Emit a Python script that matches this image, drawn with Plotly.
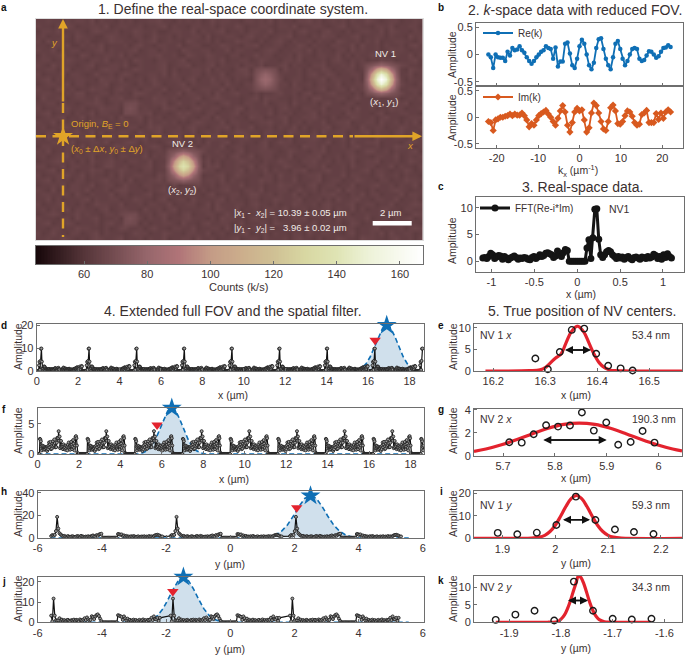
import numpy as np
import plotly.graph_objects as go

W, H = 685, 655
TXT = "#3a3030"
AX = "#6e6e6e"
GOLD = "#e0a428"
BLUE = "#0f6fb5"
ORANGE = "#d8591f"
RED = "#e3232e"
FONT = "Liberation Sans"

# ---------- panel a ----------
bg_rows = [
"44544354554635443545344556443545453464554435545463544355645345453544654345534454",
"54435465344554634554453445635443554453544653445543554634455434563454435546344553",
"35546344543565445344654453345544635445634453554463445356443564435345544636544354",
"45344553654433565443553464453544553634455435644534556344354655344563445535443645",
"53645443545334465544354563454436544535344655435345643544535443654453546344554435",
"44355463354546344453564435544634553344654435563445534465354435544636445354453564",
"54463445534456354445634553544365445534463554434565344554635443553645445346554344",
"35445644365344554635344556445336544654435534464553445364435544635354465443544635",
"45534465443554634453654435544563443554634455346544355463444535643545344655344563",
"54364554345634455463354445634556344563544535546344563544355634454635445344565443",
"44553563445435655344654445635344554635443566344455364453544653445534463555443654",
"53444635543464453565344554636444553544634556443536544453564465344553644535544634",
"45635344554436554634453564445535634464553544365445634553445635544353644564453544",
"34554463553445634554354465344563544455364435546344553644535544634455634553464435",
"54436545344655435644535544634456345544635344564436544553445634553645443565344554",
"45544354663445535443665445344635544536445644353445644535634456444353655443564453",
"36445534554464355644534465545344563456544434563655443545366444553464435445634545",
"44553644345565345446354455634644535443564435544634553644453564435534465443556344",
"53445564453446555344645443655343564455344663544453564435544634455364453446553445",
"45634453544635544364455634434656443553445634554463545344563544436554435634455443",
"34545634463544453644563545344564435536445443655344563445564435344654453564434555",
"54463545443556344564453644545343565444635544345564463453544634556344553644535463",
"45344664535443563445534656444535644345563544634453544635344563455436445534465445",
"44553445644635344554364456345544634545344665443554436544353644553445635443564453",
"53644354455634564443556344545634453465534456443553446345565344463554436544553454",
"44455636344554634456535443465544353644563454435634655344554463453644556344435654",
"35544455363544346554434565344544635544634553445634454436554634453564445344655434",
"54634454435564453544635345464435536445443563445554346544355634445534664453544563",
"45345563544634453554446354553444563544535644634553446344556344535644435544634545",
"34456445353644564435544634456344554635344565443544654435564453544634556344534654",
"55344635544534664453445634563445443656344544635534465443554634453644553446354435",
"44563445344655344654435534465345436553444563544635443556344564453445635543446534",
"53445564463544353644554436554634453445634654443553644534556344463554435644535443",
"45635443553445644536344556445344634554635443446553544634456345534465443553446554",
"34454635544634553464435544536344564453554463445344655443563455344634456445354463",
"54363445546344535664443545634454635344564435546344553464453544636544353445654344",
"45544553643544463553445634564435443563445534664453544635344556443546355344463554",
"44635344456354455344654435634553644445635443553446544563445353644564435544634453",
"53445644353465544634453554463445534636444553564435344654453564445634553446344565",
"45354463554435634554436445356344445536544634453554463445344563544635344564435544",
"34565344645443554636444535644356344553464453446555344634564443565344544635543465",
"54443553644563445344653544634456444353655443564435344656344453645544634453545634",
"45634465344453564454635344554364435644553463445536544354463544534653445634554443",
"44355344655443534664453564435544634455363544463553445344654454635534456344453565",
"53464435534563544434655344654435544634534456344635443553644554435634454636445534",
"44544654343565445634453544634455364453445634553644453564435344654436554435644535",
]
bg_base = 59
bg_step = 1.3

nv1_patch = [
 [70, 73, 77, 80, 77, 73, 70],
 [73, 84, 104, 114, 104, 84, 73],
 [77, 104, 136, 150, 136, 104, 77],
 [80, 114, 150, 167, 150, 114, 80],
 [77, 104, 136, 150, 136, 104, 77],
 [73, 84, 104, 114, 104, 84, 73],
 [70, 73, 77, 80, 77, 73, 70],
]
nv2_patch = [
 [70, 72, 75, 78, 75, 72, 70],
 [72, 80, 96, 104, 96, 80, 72],
 [75, 96, 118, 128, 118, 96, 75],
 [78, 104, 128, 138, 128, 104, 78],
 [75, 96, 118, 128, 118, 96, 75],
 [72, 80, 96, 104, 96, 80, 72],
 [70, 72, 75, 78, 75, 72, 70],
]
spot3_patch = [
 [69, 71, 72, 71, 69],
 [71, 76, 79, 76, 71],
 [72, 79, 82, 79, 72],
 [71, 76, 79, 76, 71],
 [69, 71, 72, 71, 69],
]
spot4_patch = [
 [68, 69, 69],
 [69, 71, 69],
 [69, 69, 68],
]
cbar_ticks = [60, 80, 100, 120, 140, 160]
cmap = [(45, "#17070a"), (60, "#553539"), (80, "#96666b"), (90, "#b07478"), (100, "#c49b86"),
        (110, "#ccae8c"), (120, "#cfc094"), (130, "#d8d7a2"), (140, "#dfe4b4"),
        (150, "#edf2d8"), (167, "#ffffff")]

# ---------- panel b ----------
re_k = [0, -.05, -.25, 0, -.05, -.06, -.06, -.12, .05, -.02, .12, .08, .09, .15, .08, .03, -.05, -.12, -.17,
        -.12, -.05, 0, .05, .08, .15, .12, .1, -.08, .13, -.22, -.13, -.13, .2, .22, .02, -.2, -.25, -.08,
        .15, .27, .2, 0, -.2, -.27, -.15, .12, .28, .3, .1, -.08, -.2, -.27, -.05, .2, .25, .1, -.08, -.2,
        -.12, 0, .1, .12, .1, -.08, -.12, -.1, -.02, .06, .05, 0, -.06, -.03, .05, .12, .13, .17, .14]
im_k = [-.08, -.1, -.25, -.05, -.03, 0, 0, .02, .03, .06, .03, .06, .04, .04, .08, .03, -.05, -.18, -.12, -.15,
        -.05, .03, .07, .1, .13, .06, 0, -.08, -.15, -.02, .12, .22, .1, -.15, -.28, -.1, .1, .17, .12, .14,
        -.05, -.28, -.2, .08, .27, .22, .08, -.08, -.22, -.25, -.08, .18, .23, .12, -.12, -.13, -.08, .03,
        .12, .1, .02, -.1, -.15, -.13, .05, .08, .13, -.1, -.1, -.1, .07, -.04, .08, -.02, .1, .14, .1]
k_start, k_step = -22.0, 0.5789

# ---------- panel c ----------
c_amp = [.6, .7, .5, .9, 1.5, 1.2, .5, .8, 1.1, 1.0, .4, .9, .6, .3, .6, .8, 1.0, .7, .4, .6, .5, .7, .6, .4, .3,
         .7, .9, .5, .8, 1.2, .9, 1.1, 1.5, 1.6, 1.4, 1.2, .7, 1.0, 1.9, 1.2, .9, 1.6, 2.2, 2.0,
         0, 0, 0, 0, 0, 0, 0, 0, 0,
         2.5, 4.0, .5, 4.4, 9.7, 9.8, 4.1, 1.2, .7, 1.2, 1.8, 2.0, 1.8, 1.2, .9,
         .5, .9, .6, .8, .4, .7, .9, .5, .3, .7, .8, .6, .4, .8, .7, .5, .9, .6, .8, 1.3, 1.1, .5, .9, .4, 1.2, .7, 1.4, .9, .6]
c_start, c_step = -1.1, 0.0229
d_period = 2.3

# ---------- panel f ----------
f_amp = [0, 0, 0, 0, 0, 2.5, 2.4, 2.1, 1.2, .6, 1.4, .9, 1.3, 1.0, .7, 1.2, .8, 1.1, 1.0, .9, .5, 1.2, .8, 1.4, 1.9,
         1.1, 1.6, 2.0, .8, 1.3, .9, 1.7, 2.1, 1.2, 1.5, 2.4, 1.8, 1.1, 1.17, 1.14, 1.87, 2.66, 2.54, 2.63, 3.77,
         2.19, 2.89, .96, 1.2, 2.16, 1.14, 1.5, 1.3, .8, 1.6, 1.0, 1.3, 1.1, .7, 1.4, .9, 1.2, .6, 1.5, 1.1, 1.9,
         1.0, 1.3, .7, 1.4, 2.0, 1.5, .8, 1.2, 2.3, 1.7, 1.0, .6, 1.4, 2.8, 2.95, 2.6, 1.4, .2, 0, 0, 0, 0, 0,
         0, 0, 0, 0, 0, 0, 0, 0, 0, 0]
f_step = 0.0232

# ---------- panels h, j ----------
h_amp = [1.4, 2.4, 1.8, 2.5, 5.9, 18.5, 8.1, 3.9, 2.8, 1.9,
         1.2, 1.6, 1.0, .8, 1.4, .9, .6, 1.1, 1.3, .8, .5, 1.0, 1.5, 1.1, .7, 1.6, 1.2, .9, .6, 1.0, .8, 1.3, .7,
         1.1, 1.5, 2.0, 1.2, .9, 2.3, 1.6, 2.8, 3.2, 3.5,
         0, 0, 0, 0, 0, 0, 0, 0, 0, 0, 0, 0, 0,
         3.3, 3.1, 2.6, 2.9, 1.4, 2.0, 1.0, 1.6, .9, 1.1, .7, 1.3, .8, 1.5, 1.0, .6, .9, 1.2, .5, .8, 1.1, .7, 1.3,
         .6, 1.0, .8, 1.4, .9, 1.2, .7, 1.5, 2.1, 2.4, 2.6, 2.2, 1.8, .9, 1.1]
j_amp = [3.3, .5, 11.7, 3.3, 1.0, .8, 1.0, 2.0, .9, 1.3, .7, 1.1, .6, 1.0, 1.2, .8, .5, 1.1, .9, 1.3, .7, 1.2, 1.0,
         .6, 1.4, 1.1, .8, 1.3, 2.0, 1.1, 2.4, 1.5, .9, 1.2, 3.0, 2.6, 1.6, 2.9, 3.6, 3.9, 3.1, 1.8, .7,
         0, 0, 0, 0, 0, 0, 0, 0, 0, 0, 0, 0, 0,
         3.5, 3.3, 3.0, 2.7, 1.2, 2.9, 2.0, 1.0, 1.8, .9, 1.2, .7, 1.0, 1.3, .8, 1.1, .6, .9, 1.2, .7, 1.0, 1.4,
         .8, 1.1, .6, 1.2, 1.0, 1.3, 2.2, 1.1, 2.9, 1.6, 1.4, 2.2, .7, 2.2]
h_start, h_step, h_period = -1.86, 0.0372, 3.72

# filters
d_fx = [0, 15.3, 15.5, 15.7, 15.9, 16.1, 16.3, 16.5, 16.7, 16.9, 17.1, 17.3, 17.5, 17.7, 17.9, 18.1, 18.3, 18.5, 18.7]
d_fy = [0, 0, .5, 1.4, 3.1, 6.1, 10.3, 14.9, 18.6, 20, 18.6, 14.9, 10.3, 6.1, 3.1, 1.4, .5, 0, 0]
f_fx = [0, 4.88, 5.08, 5.28, 5.48, 5.68, 5.88, 6.08, 6.28, 6.48, 6.68, 6.88, 7.08, 7.28, 7.48, 7.68, 7.88, 8.08, 18.7]
f_fy = [0, 0, .19, .53, 1.2, 2.3, 3.9, 5.6, 7.1, 7.6, 7.1, 5.6, 3.9, 2.3, 1.2, .53, .19, 0, 0]
h_fx = [-5.6, 1.06, 1.24, 1.42, 1.6, 1.78, 1.96, 2.14, 2.32, 2.5, 2.68, 2.86, 3.04, 3.22, 3.4, 3.58, 3.76, 3.94, 5.56]
h_fy = [0, 0, .94, 2.6, 5.9, 11.3, 19.1, 27.8, 34.9, 37.5, 34.9, 27.8, 19.1, 11.3, 5.9, 2.6, .94, 0, 0]
j_fx = [-5.6, -2.74, -2.58, -2.42, -2.26, -2.1, -1.94, -1.78, -1.62, -1.46, -1.3, -1.14, -.98, -.82, -.66, -.5, -.34, -.18, 5.56]
j_fy = [0, 0, .55, 1.54, 3.45, 6.6, 11.2, 16.3, 20.5, 22, 20.5, 16.3, 11.2, 6.6, 3.45, 1.54, .55, 0, 0]
star_d, tri_d = (16.9, 20), (16.34, 13.4)
star_f, tri_f = (6.48, 7.6), (5.77, 4.8)
star_h, tri_h = (2.5, 37.3), (2.07, 26.7)
star_j, tri_j = (-1.46, 22.4), (-1.79, 15.2)

# ---------- panels e, g, i, k ----------
e_x = [16.281, 16.305, 16.328, 16.351, 16.375, 16.398, 16.421, 16.445, 16.468]
e_y = [2.9, .4, 4.4, 9.5, 9.8, 4.0, 1.2, .6, .1]
e_fx = [16.185, 16.27, 16.29, 16.30, 16.31, 16.32, 16.33, 16.34, 16.35, 16.362, 16.374, 16.384, 16.394, 16.404, 16.414, 16.424, 16.434, 16.46, 16.57]
e_fy = [0, .07, .25, .76, 1.88, 3.0, 3.87, 6.5, 9.05, 10.4, 9.05, 6.5, 3.87, 1.88, .76, .25, .07, 0, 0]
g_x = [5.712, 5.736, 5.759, 5.783, 5.806, 5.829, 5.852, 5.875, 5.899, 5.922, 5.946, 5.969, 5.992]
g_y = [1.17, 1.14, 1.87, 2.66, 2.54, 2.63, 3.77, 2.19, 2.89, .96, 1.2, 2.16, 1.14]
g_fx = [5.644, 5.667, 5.697, 5.727, 5.757, 5.787, 5.817, 5.847, 5.877, 5.907, 5.937, 5.967, 5.997, 6.027, 6.045]
g_fy = [.37, .58, .95, 1.41, 1.92, 2.39, 2.73, 2.85, 2.73, 2.39, 1.92, 1.41, .95, .58, .42]
i_x = [1.891, 1.928, 1.965, 2.002, 2.039, 2.076, 2.113, 2.149, 2.186]
i_y = [2.4, 1.8, 2.5, 5.9, 18.5, 8.1, 3.9, 2.8, 1.9]
i_fx = [1.846, 1.955, 1.97, 1.98, 1.99, 2.0, 2.01, 2.02, 2.03, 2.04, 2.05, 2.06, 2.07, 2.08, 2.09, 2.10, 2.11, 2.125, 2.24]
i_fy = [0, .09, .5, 1.3, 3.0, 5.8, 9.8, 14.1, 17.6, 19, 17.6, 14.1, 9.8, 5.8, 3.0, 1.3, .5, .09, 0]
k_x = [-1.926, -1.888, -1.851, -1.813, -1.775, -1.738, -1.700, -1.663, -1.625]
k_y = [.7, 2.2, 3.3, .5, 11.7, 3.3, 1.0, .8, 1.0]
k_fx = [-1.926, -1.826, -1.806, -1.801, -1.796, -1.791, -1.786, -1.781, -1.776, -1.771, -1.766, -1.761, -1.756, -1.751, -1.746, -1.741, -1.736, -1.731, -1.726, -1.716, -1.706, -1.625]
k_fy = [0, .02, .15, .76, 1.5, 2.67, 4.4, 6.5, 8.95, 11.2, 13.4, 12.8, 11.2, 8.95, 6.5, 4.4, 2.67, 1.5, .76, .15, .02, 0]


def nx(p):
    return p / W


def ny(p):
    return 1 - p / H


fig = go.Figure()
layout = {}
anns = []
shapes = []


def labels(vals):
    return None if vals is None else ["%g" % v for v in vals]


def add_axes(n, x0, x1, y0, y1, xr, yr, xt=None, yt=None, xlabels=True):
    s = "" if n == 1 else str(n)
    common = dict(showgrid=False, zeroline=False, mirror=True, showline=True, linecolor=AX, linewidth=1,
                  ticks="inside", ticklen=3, tickcolor=AX, tickmode="array", automargin=False,
                  tickfont=dict(family=FONT, size=11, color=TXT))
    layout["xaxis" + s] = dict(domain=[nx(x0), nx(x1)], range=xr, anchor="y" + s, tickvals=xt, ticktext=labels(xt),
                               showticklabels=xlabels, **common)
    layout["yaxis" + s] = dict(domain=[ny(y1), ny(y0)], range=yr, anchor="x" + s, tickvals=yt, ticktext=labels(yt), **common)
    return dict(xaxis="x" + s, yaxis="y" + s)


def text(t, x, y, size=10.5, color=TXT, anchor="center", angle=0):
    anns.append(dict(text=t, x=nx(x), y=ny(y), xref="paper", yref="paper", showarrow=False, xanchor=anchor,
                     yanchor="middle", font=dict(family=FONT, size=size, color=color), textangle=angle))


def amp(x, y):
    text("Amplitude", x, y, size=10.5, angle=-90)


def arrow(x0, y0, x1, y1, color, width, size):
    anns.append(dict(x=nx(x1), y=ny(y1), ax=x0 - x1, ay=y0 - y1, xref="paper", yref="paper", axref="pixel", ayref="pixel",
                     text="", showarrow=True, arrowhead=2, arrowsize=size, arrowwidth=width, arrowcolor=color))


# Panel a heatmap
img = np.array([[bg_base + bg_step * int(c) for c in r[:80].ljust(80, "4")] for r in bg_rows], dtype=float)
for patch, col, row in [(nv1_patch, 68, 9), (nv2_patch, 27, 27), (spot3_patch, 45, 10), (spot4_patch, 18, 17), (spot4_patch, 18, 40)]:
    p = np.array(patch, dtype=float)
    img[row:row + p.shape[0], col:col + p.shape[1]] = np.maximum(img[row:row + p.shape[0], col:col + p.shape[1]], p)

cscale = [[(v - 45) / 122, c] for v, c in cmap]
ref = add_axes(1, 36, 422.5, 19, 240, [0, 80], [46, 0])
layout["xaxis"].update(showticklabels=False, ticks="", tickvals=[], ticktext=[], linecolor="#dddddd")
layout["yaxis"].update(showticklabels=False, ticks="", tickvals=[], ticktext=[], linecolor="#dddddd")
fig.add_trace(go.Heatmap(z=img, x=np.arange(80) + .5, y=np.arange(46) + .5, zmin=45, zmax=167, zsmooth="best",
                         colorscale=cscale, showscale=False, hoverinfo="skip", **ref))
fig.add_trace(go.Scatter(x=[5.6], y=[24.4], mode="markers", showlegend=False, hoverinfo="skip",
                         marker=dict(symbol="star", size=15, color=GOLD), **ref))

# Colour bar drawn on its own axes
levels = np.arange(45, 167.5, .5)
rc = add_axes(13, 36, 423, 246, 264, [44.8, 167.3], [0, 1], cbar_ticks, [])
layout["yaxis13"].update(showticklabels=False, ticks="")
fig.add_trace(go.Heatmap(z=[levels], x=levels, y=[.5], zmin=45, zmax=167, colorscale=cscale, showscale=False,
                         hoverinfo="skip", **rc))
text("Counts (k/s)", 238, 287, 11)


def seg(x0, y0, x1, y1, dash="solid"):
    shapes.append(dict(type="line", xref="paper", yref="paper", x0=nx(x0), y0=ny(y0), x1=nx(x1), y1=ny(y1),
                       line=dict(color=GOLD, width=2.4, dash=dash)))


seg(36, 136.3, 353, 136.3, "10px,6.5px")
seg(63, 103, 63, 237, "10px,6.5px")
arrow(353, 136.3, 422, 136.3, GOLD, 2.4, .8)
arrow(63, 103, 63, 19, GOLD, 2.4, .8)
text("<i>y</i>", 54, 43, 9.5, GOLD)
text("<i>x</i>", 410, 145, 9.5, GOLD)
text("Origin, <i>B</i><sub>E</sub> = 0", 69, 124, 9.5, GOLD, "left")
text("(<i>x</i><sub>0</sub> ± Δ<i>x</i>, <i>y</i><sub>0</sub> ± Δ<i>y</i>)", 69, 149, 9.5, GOLD, "left")
WH = "#f2ece8"
text("NV 1", 385, 54, 9.5, WH)
text("(<i>x</i><sub>1</sub>, <i>y</i><sub>1</sub>)", 384, 102, 9.5, WH)
text("NV 2", 183, 144, 9.5, WH)
text("(<i>x</i><sub>2</sub>, <i>y</i><sub>2</sub>)", 182, 190, 9.5, WH)
text("|<i>x</i><sub>1</sub> -  <i>x</i><sub>2</sub>| = 10.39 ± 0.05 µm", 232, 213, 9.5, WH, "left")
text("|<i>y</i><sub>1</sub> -  <i>y</i><sub>2</sub>| =   3.96 ± 0.02 µm", 232, 228, 9.5, WH, "left")
text("2 µm", 390, 212, 9.5, WH)
shapes.append(dict(type="rect", xref="paper", yref="paper", x0=nx(372.7), x1=nx(411.7), y0=ny(221), y1=ny(225.5),
                   fillcolor="white", line=dict(width=0)))

# Panel b
k_x_axis = k_start + k_step * np.arange(len(re_k))
r2 = add_axes(2, 476, 683, 23, 86, [-25, 25], [-.58, .58], [-20, -10, 0, 10, 20], [-.5, 0, .5], xlabels=False)
fig.add_trace(go.Scatter(x=k_x_axis, y=re_k, mode="lines+markers", name="Re(k)", legend="legend",
                         line=dict(color=BLUE, width=1.8), marker=dict(symbol="circle", size=4.5, color=BLUE), **r2))
r3 = add_axes(3, 476, 683, 86, 148, [-25, 25], [-.58, .59], [-20, -10, 0, 10, 20], [-.5, 0, .5])
fig.add_trace(go.Scatter(x=k_x_axis, y=im_k, mode="lines+markers", name="Im(k)", legend="legend2",
                         line=dict(color=ORANGE, width=1.8), marker=dict(symbol="diamond", size=5.5, color=ORANGE), **r3))
amp(452, 54)
amp(452, 117)
text("k<sub>x</sub> (µm<sup>-1</sup>)", 578, 171)

# Panel c
cx = c_start + c_step * np.arange(len(c_amp))
r4 = add_axes(4, 476, 684, 197, 272, [-1.18, 1.245], [-2, 12], [-1, -.5, 0, .5, 1], [0, 5, 10])
fig.add_trace(go.Scatter(x=cx, y=c_amp, mode="lines+markers", name="FFT(Re-i*Im)", legend="legend3",
                         line=dict(color="#141414", width=3), marker=dict(symbol="circle", size=7, color="#141414"), **r4))
amp(452, 240)
text("x (µm)", 581, 293.5)
text("NV1", 607, 209, 10.5, anchor="left")


def wide(ref_, fx, fy, lx, ly, star, tri):
    fig.add_trace(go.Scatter(x=fx, y=fy, mode="lines", fill="tozeroy", fillcolor="#d0e0ec", showlegend=False,
                             line=dict(color=BLUE, width=1.6, dash="5px,3px"), hoverinfo="skip", **ref_))
    fig.add_trace(go.Scatter(x=lx, y=ly, mode="lines+markers", showlegend=False, hoverinfo="skip",
                             line=dict(color="#111111", width=1.2),
                             marker=dict(symbol="circle", size=3, color="#9a9a9a", line=dict(color="#222222", width=.9)), **ref_))
    fig.add_trace(go.Scatter(x=[star[0]], y=[star[1]], mode="markers", showlegend=False, hoverinfo="skip", cliponaxis=False,
                             marker=dict(symbol="star", size=15, color=BLUE), **ref_))
    fig.add_trace(go.Scatter(x=[tri[0]], y=[tri[1]], mode="markers", showlegend=False, hoverinfo="skip", cliponaxis=False,
                             marker=dict(symbol="triangle-down", size=10, color=RED), **ref_))


def tile(start, step, vals, period, n_range, lo, hi):
    base = start + step * np.arange(len(vals))
    xs = np.concatenate([base + n * period for n in n_range])
    ys = np.concatenate([vals for _ in n_range])
    m = (xs >= lo) & (xs <= hi)
    return xs[m], ys[m]


xt18 = list(range(0, 20, 2))
xt6 = [-6, -4, -2, 0, 2, 4, 6]
r5 = add_axes(5, 36.7, 424, 324, 371, [0, 18.7], [0, 20.5], xt18, [0, 10, 20])
lx, ly = tile(c_start, c_step, c_amp, d_period, range(0, 9), 0, 18.65)
wide(r5, d_fx, d_fy, lx, ly, star_d, tri_d)
amp(18, 347)
text("x (µm)", 233, 395)

r6 = add_axes(6, 37.5, 424, 408, 454, [0, 18.65], [0, 7.6], xt18, [0, 5])
lx, ly = tile(0, f_step, f_amp, d_period, range(0, 9), 0, 18.65)
wide(r6, f_fx, f_fy, lx, ly, star_f, tri_f)
amp(18, 431)
text("x (µm)", 234, 479)

r7 = add_axes(7, 37.7, 423.5, 491, 537.7, [-6, 6.02], [0, 41.5], xt6, [0, 20, 40])
lx, ly = tile(h_start, h_step, h_amp, h_period, [-1, 0, 1], -5.6, 5.6)
wide(r7, h_fx, h_fy, lx, ly, star_h, tri_h)
amp(18, 514)
text("y (µm)", 230, 564)

r8 = add_axes(8, 37.7, 423.5, 576.7, 622.3, [-6, 6.02], [0, 22.5], xt6, [0, 10, 20])
lx, ly = tile(h_start, h_step, j_amp, h_period, [-1, 0, 1], -5.6, 5.6)
wide(r8, j_fx, j_fy, lx, ly, star_j, tri_j)
amp(18, 599)
text("y (µm)", 230, 649)


def narrow(ref_, fx, fy, x, y):
    fig.add_trace(go.Scatter(x=fx, y=fy, mode="lines", showlegend=False, hoverinfo="skip", line=dict(color=RED, width=3.2, shape="spline"), **ref_))
    fig.add_trace(go.Scatter(x=x, y=y, mode="markers", showlegend=False, hoverinfo="skip", cliponaxis=False,
                             marker=dict(symbol="circle-open", size=6.5, color="#1a1a1a", line=dict(color="#1a1a1a", width=1.4)), **ref_))


def dbl(x0, x1, y):
    arrow(x0, y, x1, y, "#111111", 1.6, 1)
    arrow(x1, y, x0, y, "#111111", 1.6, 1)


r9 = add_axes(9, 474, 682, 324.3, 371, [16.163, 16.563], [0, 10.8], [16.2, 16.3, 16.4, 16.5], [0, 5, 10])
narrow(r9, e_fx, e_fy, e_x, e_y)
text("NV 1 <i>x</i>", 478, 334.5, anchor="left")
text("53.4 nm", 672, 334.5, anchor="right")
dbl(565, 591, 350)
amp(453, 347)
text("x (µm)", 576, 395)

r10 = add_axes(10, 474, 682, 408.7, 455.7, [5.644, 6.045], [0, 4.1], [5.7, 5.8, 5.9, 6], [0, 2, 4])
narrow(r10, g_fx, g_fy, g_x, g_y)
text("NV 2 <i>x</i>", 478, 418.5, anchor="left")
text("190.3 nm", 678, 418.5, anchor="right")
dbl(543.3, 606.7, 440)
amp(453, 431)
text("x (µm)", 576, 478)

r11 = add_axes(11, 474, 682, 491, 538.3, [1.846, 2.24], [0, 21], [1.9, 2, 2.1, 2.2], [0, 10, 20])
narrow(r11, i_fx, i_fy, i_x, i_y)
text("NV 1 <i>y</i>", 478, 505, anchor="left")
text("59.3 nm", 672, 505, anchor="right")
dbl(563, 590, 519.7)
amp(453, 514)
text("y (µm)", 576, 563)

r12 = add_axes(12, 474, 682, 575.7, 622.3, [-1.968, -1.566], [0, 13.4], [-1.9, -1.8, -1.7, -1.6], [0, 5, 10])
narrow(r12, k_fx, k_fy, k_x, k_y)
text("NV 2 <i>y</i>", 478, 587, anchor="left")
text("34.3 nm", 672, 587, anchor="right")
dbl(568, 588, 600.5)
amp(453, 599)
text("y (µm)", 576, 648)

# Titles
text("1. Define the real-space coordinate system.", 233, 9, 14)
text("2. <i>k</i>-space data with reduced FOV.", 575, 10, 14)
text("3. Real-space data.", 582, 187, 14)
text("4. Extended full FOV and the spatial filter.", 233, 311, 14)
text("5. True position of NV centers.", 582, 311, 14)
for lab, x, y in [("a", 4, 7), ("b", 441, 7), ("c", 441, 186), ("d", 4, 325), ("f", 4, 409), ("h", 4, 491), ("j", 4, 581),
                  ("e", 441, 325), ("g", 441, 409), ("i", 441, 491), ("k", 441, 580)]:
    text("<b>%s</b>" % lab, x, y, 10, "#111111")

leg = dict(bgcolor="rgba(0,0,0,0)", borderwidth=0, itemwidth=30, font=dict(family=FONT, size=10, color=TXT),
           xanchor="left", yanchor="middle", tracegroupgap=0)
fig.update_layout(
    width=W, height=H, margin=dict(l=0, r=0, t=0, b=0), paper_bgcolor="white", plot_bgcolor="white",
    font=dict(family=FONT, color=TXT), annotations=anns, shapes=shapes,
    legend=dict(x=nx(478), y=ny(33), **leg),
    legend2=dict(x=nx(478), y=ny(97), **leg),
    legend3=dict(x=nx(475), y=ny(208), **leg),
    **layout)

fig.write_html("out.html", config=dict(displayModeBar=False, responsive=False),
               post_script="document.body.style.margin='0';document.body.style.overflow='hidden';")
